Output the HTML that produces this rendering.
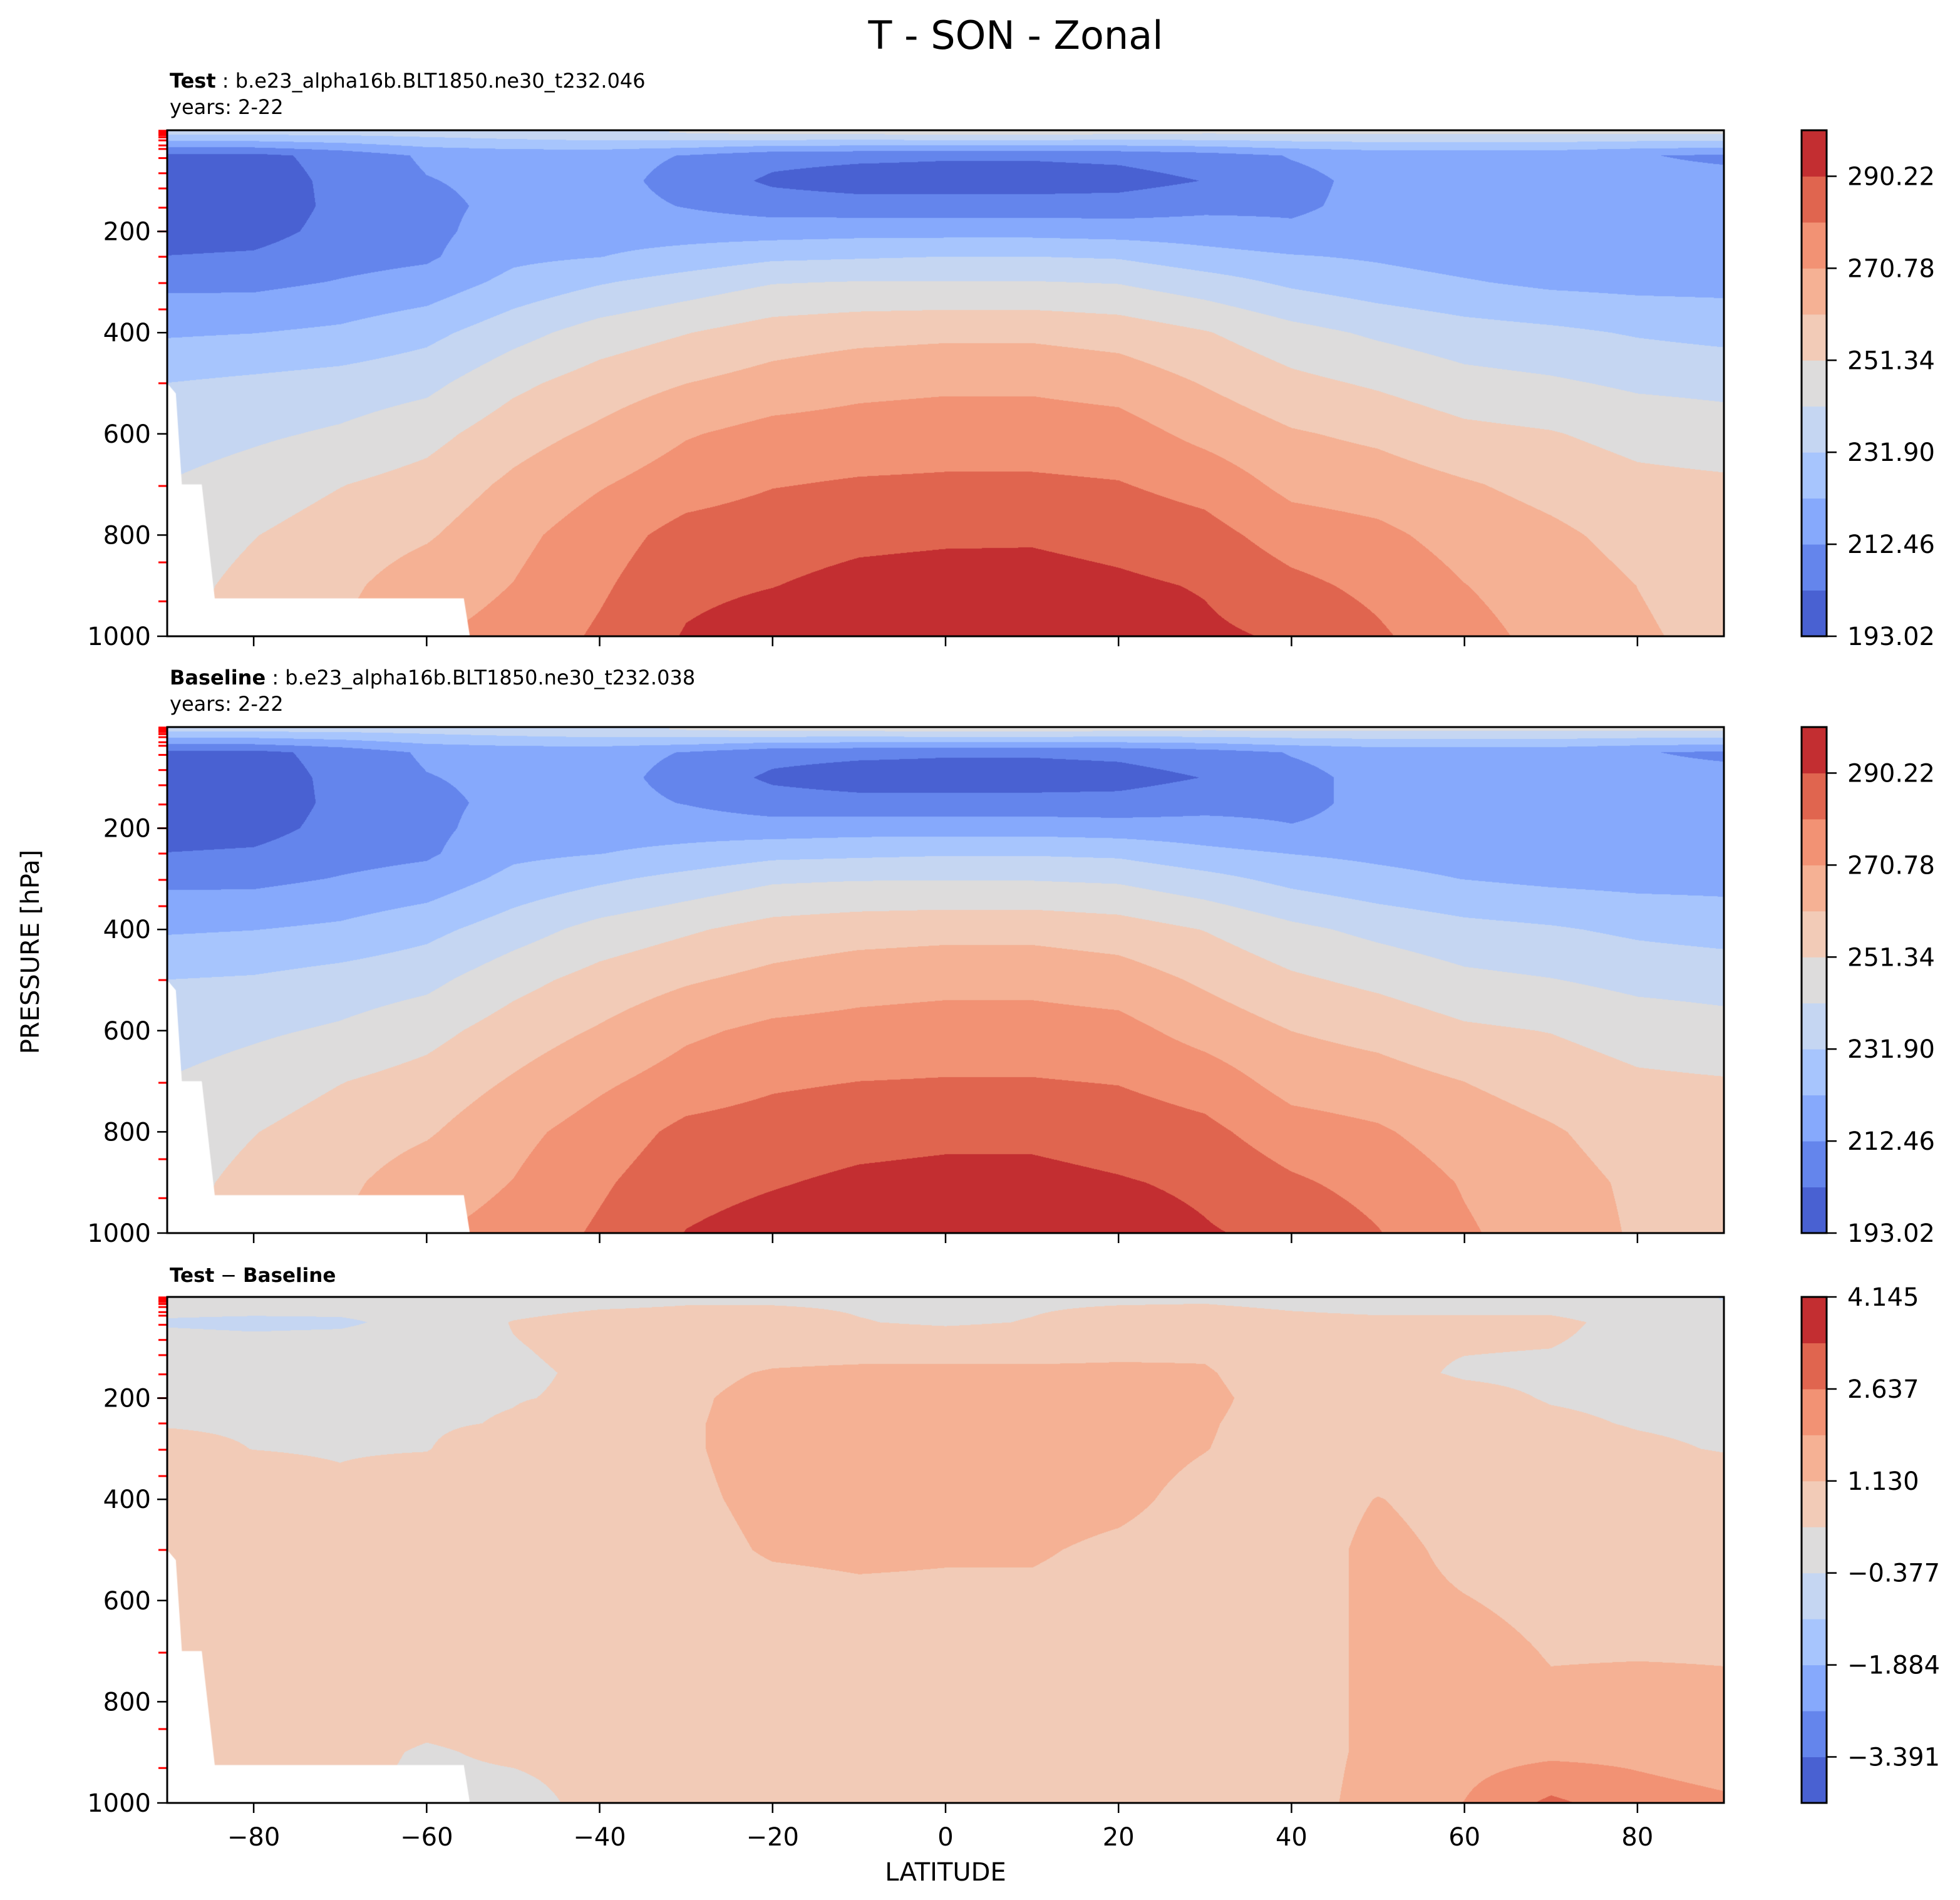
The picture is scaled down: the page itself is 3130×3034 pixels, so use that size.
<!DOCTYPE html>
<html><head><meta charset="utf-8">
<style>
html,body{margin:0;padding:0;background:#fff;}
#wrap{position:relative;width:3130px;height:3034px;overflow:hidden;font-family:"DejaVu Sans","Liberation Sans",sans-serif;}
canvas{position:absolute;}
svg{position:absolute;left:0;top:0;}
</style></head>
<body>
<div id="wrap">
<canvas id="c1" width="2486" height="808" style="left:267px;top:208px"></canvas>
<canvas id="c2" width="2486" height="808" style="left:267px;top:1161px"></canvas>
<canvas id="c3" width="2486" height="808" style="left:267px;top:2071px"></canvas>
<svg id="svg" width="3130" height="3034"></svg>
</div>
<script>
// ---------- data ----------
const lats = [-90,-80,-70,-60,-50,-40,-30,-20,-10,0,10,20,30,40,50,60,70,80,90];
const plevs = [5,50,100,150,200,250,300,400,500,600,700,800,900,1000];
const testT = [
[235,200,197,197,198,203,210,221,232,237,242,246,248,250],
[235,200,198,197,199,204,210,222,234,240,246,251,254,255],
[235,206,205,205,206,209,213,224,236,243,251,256,259,261],
[236,214,212,210,210,211,216,229,239,248,255,260,266,270],
[238,216,215,215,217,220,225,238,249,257,263,268,271,274],
[240,216,216,216,218,222,231,246,256,263,270,276,279,282],
[242,212,209,212,218,226,236,251,261,270,276,284,288,291],
[244,206,201,208,218,230,241,256,265,274,280,286,290,295],
[244,205,198,207,219,231,242,258,268,275,281.5,288,293,297],
[245,204,198,207,219,232,242,259,269,276,282,288.8,294,298],
[245,204,198,207,219,232,242,259,269,276,282,289,294,298],
[244,205,199,207,218,231,241,257,267,275,281,287,292,296],
[243,208,203,210,217,226,236,252,260.5,268,277,284,289.5,292],
[243,213,210,211,214,223,230,245,254,262,268,276,283,289],
[243,216,215,215,216,221,226,240,250,259,266,273,278,282],
[243,216,216,216,216,218,223,236,245,254,262,267,271,274],
[243,216,216,216,216,217,220,234,243,252,258,263,266,268],
[243,213,215,216,216,217,219,231,240,248,254,258,261,262],
[243,211,215,216,216,217,219,229,239,246,253,256,258,259]
];
const baseT = [
[235,200,197,197,198,203,210,221,232,237,242,246,248,250],
[235,200,198,197,199,204,210,222,233,240,246,251,254,255],
[235,206,205,205,206,209,213,224,236,243,251,256,259,261],
[236,214,212,210,210,211,216,229,239,248,255,260,266,270],
[238,216,215,215,217,220,225,237,248,256,262,268,271,274],
[240,216,216,216,218,222,230,245,255,262,269,275,279,282],
[242,212,209,212,218,225,235,250,260,269,275,283,287,290.5],
[244,206,201,207,217,229,240,255,264,273,279,285,289.5,294],
[244,205,198,206,218,230,241,257,267,274,280.5,287,292,296],
[245,204,198,206,218,231,241,258,268,275,281,288,293,297],
[245,204,198,206,218,231,241,258,268,275,281,288,293,297],
[244,205,199,206,217,230,240,256,266,274,280,286,291,295],
[243,208,203,209,216,225,235,251,259.5,267,276,283,288.5,291],
[243,213,210,210,213,222,229,244,253,261,267,275,282,288],
[243,216,215,215,215,220,225,239,249,258,265,272,277,281],
[243,216,216,216,216,218,222,235,244,253,261,266,270,272],
[243,216,216,216,216,217,220,233,242,251,257,262,264.5,266],
[243,213,215,216,216,217,219,230,239,247,253,257,259.5,260],
[243,211,215,216,216,217,219,228,238,245,252,255,257,258]
];
const diffT = [
[0.2,-0.5,0.1,0.3,0.3,0.35,0.5,0.6,0.6,0.6,0.6,0.6,0.4,0.3],
[0.2,-0.6,0.0,0.2,0.3,0.33,0.37,0.7,0.7,0.7,0.7,0.7,0.5,0.3],
[0.2,-0.55,0.1,0.2,0.3,0.3,0.33,0.5,0.7,0.7,0.7,0.7,0.6,0.5],
[0.1,0.0,0.2,0.3,0.3,0.3,0.35,0.8,0.8,0.8,0.8,0.7,0.3,0.2],
[0.1,0.4,0.35,0.3,0.35,0.42,0.8,0.8,0.8,0.8,0.8,0.7,0.5,0.1],
[0.2,0.6,0.5,0.45,0.45,0.8,0.85,0.9,0.9,0.9,0.8,0.7,0.6,0.6],
[0.3,0.6,0.7,0.9,1.0,1.05,1.05,1.0,0.9,0.85,0.8,0.7,0.7,0.7],
[0.3,0.6,0.8,1.2,1.4,1.4,1.4,1.3,1.2,0.9,0.8,0.7,0.7,0.7],
[0.3,0.4,0.8,1.3,1.4,1.4,1.4,1.4,1.25,1.0,0.8,0.7,0.7,0.7],
[0.3,0.3,0.8,1.3,1.4,1.4,1.4,1.4,1.2,1.0,0.8,0.7,0.7,0.7],
[0.3,0.4,0.8,1.3,1.4,1.4,1.4,1.4,1.2,1.0,0.8,0.7,0.7,0.7],
[0.3,0.6,0.9,1.3,1.4,1.4,1.4,1.3,1.0,0.9,0.8,0.7,0.7,0.7],
[0.3,0.7,1.0,1.2,1.3,1.2,1.15,0.9,0.8,0.8,0.8,0.7,0.7,0.7],
[0.2,0.55,0.6,0.7,0.8,0.8,0.8,0.8,0.8,0.8,0.8,0.8,0.8,0.8],
[0.1,0.5,0.45,0.5,0.6,0.7,0.8,1.15,1.3,1.3,1.3,1.3,1.3,1.4],
[0.1,0.5,0.4,0.33,0.5,0.6,0.7,0.9,1.0,1.15,1.3,1.35,1.6,1.9],
[0.1,0.5,0.38,0.3,0.35,0.45,0.6,0.8,0.9,1.0,1.1,1.2,1.7,2.8],
[0.0,0.2,0.2,0.3,0.3,0.35,0.45,0.8,0.9,1.0,1.1,1.25,1.7,2.2],
[-0.4,0.0,0.1,0.2,0.25,0.3,0.35,0.7,0.9,1.0,1.1,1.2,1.5,2.0]
];
const tLevels = [193.02,202.74,212.46,222.18,231.90,241.62,251.34,261.06,270.78,280.50,290.22,299.94];
const tTickLabels = ["193.02","212.46","231.90","251.34","270.78","290.22"];
const dLevels = [-4.145,-3.391,-2.637,-1.884,-1.130,-0.377,0.377,1.130,1.884,2.637,3.391,4.145];
const dTickLabels = ["\u22123.391","\u22121.884","\u22120.377","1.130","2.637","4.145"];
const bandColors = ["#4961d2","#6485ec","#86a9fc","#a7c5fd","#c5d6f2","#dddcdc","#f2cbb7","#f5b194","#f29274","#e0654f","#c32e31"];
const maskLat = [-90,-89,-88.3,-86,-84.5,-55.7,-55,-90];
const maskP = [500,520,700,700,925,925,1000,1000];
const modelLevels = [1,2,3,4,5,7,10,14,20,30,37,55,85,115,153,200,250,302,354,500,703,854,931];
const yTicks = [200,400,600,800,1000];
const xTicks = [-80,-60,-40,-20,0,20,40,60,80];

// ---------- layout ----------
const PX0=267, PW=2486, PH=808;
const plots=[{top:208,cv:'c1',data:testT,lev:tLevels,labels:tTickLabels,name:'test'},
             {top:1161,cv:'c2',data:baseT,lev:tLevels,labels:tTickLabels,name:'baseline'},
             {top:2071,cv:'c3',data:diffT,lev:dLevels,labels:dTickLabels,name:'difference'}];
const xScale = lat => PX0 + (lat+90)/180*PW;
const yScale = (p,top) => top + p/1000*PH;

function sample(data, lat, p){
  let fi=(lat-lats[0])/(lats[1]-lats[0]); if(fi<0)fi=0; if(fi>lats.length-1)fi=lats.length-1;
  let i=Math.min(Math.floor(fi),lats.length-2), tx=fi-i;
  let j=0; if(p<=plevs[0]){j=0;p=plevs[0];} else {while(j<plevs.length-2 && plevs[j+1]<p) j++;}
  let ty=(p-plevs[j])/(plevs[j+1]-plevs[j]); if(ty<0)ty=0; if(ty>1)ty=1;
  const a=data[i][j],b=data[i+1][j],c=data[i][j+1],d=data[i+1][j+1];
  return (a*(1-tx)+b*tx)*(1-ty)+(c*(1-tx)+d*tx)*ty;
}
function hex(h){return [parseInt(h.substr(1,2),16),parseInt(h.substr(3,2),16),parseInt(h.substr(5,2),16)];}
const rgb=bandColors.map(hex);

plots.forEach(pl=>{
  const cv=document.getElementById(pl.cv), ctx=cv.getContext('2d');
  const img=ctx.createImageData(PW,PH), D=img.data;
  for(let y=0;y<PH;y++){
    const p=(y+0.5)/PH*1000;
    for(let x=0;x<PW;x++){
      const lat=(x+0.5)/PW*180-90;
      const v=sample(pl.data,lat,p);
      let k=0; for(let m=1;m<pl.lev.length-1;m++){ if(v>=pl.lev[m]) k=m; }
      const c=rgb[k], o=(y*PW+x)*4;
      D[o]=c[0];D[o+1]=c[1];D[o+2]=c[2];D[o+3]=255;
    }
  }
  ctx.putImageData(img,0,0);
  ctx.fillStyle='#fff'; ctx.beginPath();
  maskLat.forEach((la,i)=>{const X=xScale(la)-PX0, Y=maskP[i]/1000*PH; if(i===0)ctx.moveTo(X,Y); else ctx.lineTo(X,Y);});
  ctx.closePath(); ctx.fill();
});

// ---------- svg overlay ----------
const NS='http://www.w3.org/2000/svg', svg=document.getElementById('svg');
function mk(tag,attrs,parent){const e=document.createElementNS(NS,tag);for(const k in attrs)e.setAttribute(k,attrs[k]);(parent||svg).appendChild(e);return e;}

const title=mk('text',{x:1622,y:78,'text-anchor':'middle','font-size':62,fill:'#000'});
title.textContent='T - SON - Zonal';



const subs=[
 {b:'Test',t:' : b.e23_alpha16b.BLT1850.ne30_t232.046',y:'years: 2-22'},
 {b:'Baseline',t:' : b.e23_alpha16b.BLT1850.ne30_t232.038',y:'years: 2-22'},
 null];

plots.forEach((pl,pi)=>{
  const g=mk('g',{});
  
  
  if(subs[pi]){
    const t=mk('text',{x:271,y:pl.top-68,'font-size':32,fill:'#000'},g);
    
    
    const b=mk('tspan',{'font-weight':'bold'},t); b.textContent=subs[pi].b;
    const r=mk('tspan',{},t); r.textContent=subs[pi].t;
    const yr=mk('text',{x:271,y:pl.top-26,'font-size':32,fill:'#000'},g);
    yr.textContent=subs[pi].y;
    
    
  } else {
    const t=mk('text',{x:271,y:pl.top-24,'font-size':31,fill:'#000'},g);
    
    
    const a=mk('tspan',{'font-weight':'bold'},t); a.textContent='Test';
    const m=mk('tspan',{}, t); m.textContent=' \u2212 ';
    const c=mk('tspan',{'font-weight':'bold'},t); c.textContent='Baseline';
  }
  modelLevels.forEach(lv=>{
    const y=yScale(lv,pl.top);
    const l=mk('line',{x1:PX0-14,x2:PX0,y1:y,y2:y,stroke:'#ff0000','stroke-width':3},g);
    
    
  });
  yTicks.forEach(v=>{
    const y=yScale(v,pl.top);
    const l=mk('line',{x1:PX0-16,x2:PX0,y1:y,y2:y,stroke:'#000','stroke-width':2.5},g);
    
    
    const t=mk('text',{x:PX0-26,y:y+14,'text-anchor':'end','font-size':40,fill:'#000'},g);
    t.textContent=String(v);
    
    
  });
  xTicks.forEach(v=>{
    const x=xScale(v), yb=pl.top+PH;
    const l=mk('line',{x1:x,x2:x,y1:yb,y2:yb+16,stroke:'#000','stroke-width':2.5},g);
    
    
    if(pi===2){
      const t=mk('text',{x:x,y:yb+68,'text-anchor':'middle','font-size':40,fill:'#000'},g);
      t.textContent=(v<0?'\u2212':'')+Math.abs(v);
      
      
    }
  });
  const fr=mk('rect',{x:PX0,y:pl.top,width:PW,height:PH,fill:'none',stroke:'#000','stroke-width':3},g);
  
  
  const cb=mk('g',{},g);
  
  
  const CX=2877, CW=40, lo=pl.lev[0], hi=pl.lev[pl.lev.length-1];
  const cy=v=>pl.top+PH-(v-lo)/(hi-lo)*PH;
  bandColors.forEach((c,k)=>{
    const y1=cy(pl.lev[k+1]), y0=cy(pl.lev[k]);
    const r=mk('rect',{x:CX,y:y1,width:CW,height:y0-y1+0.5,fill:c},cb);
    
    
  });
  mk('rect',{x:CX,y:pl.top,width:CW,height:PH,fill:'none',stroke:'#000','stroke-width':3},cb);
  pl.labels.forEach((lab,i)=>{
    const v = (pl===plots[2]) ? pl.lev[1+2*i] : pl.lev[2*i];
    const y=cy(v);
    const l=mk('line',{x1:CX+CW,x2:CX+CW+16,y1:y,y2:y,stroke:'#000','stroke-width':2.5},cb);
    
    
    const t=mk('text',{x:2950,y:y+14,'font-size':40,fill:'#000'},cb);
    t.textContent=lab;
    
    
  });
});

const xl=mk('text',{x:1510,y:3003,'text-anchor':'middle','font-size':40,fill:'#000'});
xl.textContent='LATITUDE';


const yl=mk('text',{x:0,y:0,'text-anchor':'middle','font-size':40,fill:'#000',transform:'translate(62,1520) rotate(-90)'});
yl.textContent='PRESSURE [hPa]';


</script>
</body></html>
